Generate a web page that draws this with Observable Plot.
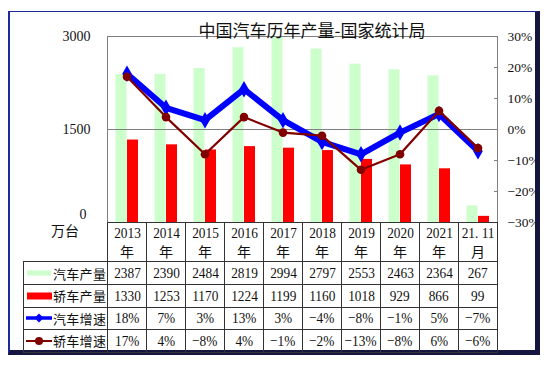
<!DOCTYPE html>
<html><head><meta charset="utf-8">
<script src="https://cdn.jsdelivr.net/npm/d3@7"></script>
<script src="https://cdn.jsdelivr.net/npm/@observablehq/plot@0.6"></script>
<style>
body{margin:0;background:#fff;}
#wrap{position:relative;width:547px;height:365px;overflow:hidden;background:#fff;font-family:"Liberation Serif",serif;color:#111;}
#chart{position:absolute;left:0;top:0;}
#frame{position:absolute;left:8px;top:11px;width:532px;height:344px;box-sizing:border-box;border-left:2px solid #1f2a9a;border-top:1.5px solid #1f2a9a;border-right:5px solid #15163f;border-bottom:5px solid #15163f;pointer-events:none;}
#title{position:absolute;top:20px;left:312px;transform:translateX(-50%);font-family:"Noto Sans CJK SC";font-size:17px;line-height:20px;white-space:nowrap;color:#111;}
#unit{position:absolute;left:51px;top:222px;font-family:"Noto Sans CJK SC";font-size:14px;line-height:17px;color:#111;}
table{position:absolute;left:23px;top:222px;border-collapse:collapse;table-layout:fixed;width:474px;}
td{border:1px solid #333;padding:0;text-align:center;vertical-align:middle;overflow:hidden;white-space:nowrap;}
td.corner{border-top:none;border-left:none;}
.num{display:inline-block;font-family:"Liberation Serif";font-size:15.5px;transform:scaleX(0.86);line-height:18px;}
.cjk{font-family:"Noto Sans CJK SC";font-size:14px;line-height:18px;display:block;}
.leg{display:flex;align-items:center;padding-left:2px;font-family:"Noto Sans CJK SC";font-size:13px;letter-spacing:0.3px;}
.leg svg{flex:none;}
</style></head>
<body><div id="wrap"><div id="chart"></div><div id="title"></div><div id="unit"></div><div id="frame"></div></div>
<script>
// ---- data ----
const categories = ["2013年","2014年","2015年","2016年","2017年","2018年","2019年","2020年","2021年","21. 11月"];
const seriesNames = ["汽车产量","轿车产量","汽车增速","轿车增速"];
const carOutput   = [2387,2390,2484,2819,2994,2797,2553,2463,2364,267];
const sedanOutput = [1330,1253,1170,1224,1199,1160,1018,929,866,99];
const carGrowth   = [18,7,3,13,3,-4,-8,-1,5,-7];
const sedanGrowth = [17,4,-8,4,-1,-2,-13,-8,6,-6];
const leftTicks  = [0,1500,3000];
const rightTicks = [-30,-20,-10,0,10,20,30];
const titleText = "中国汽车历年产量-国家统计局";
const unitText = "万台";

const colors = {car:"#ccffcc", sedan:"#ff0000", carG:"#0000ff", sedanG:"#800000"};

// map right-axis percentage onto left-axis domain [0,3000] <-> [-30,30]
const pctMin = rightTicks[0], pctMax = rightTicks[rightTicks.length-1];
const yMax = leftTicks[leftTicks.length-1];
const pctToY = p => (p - pctMin) / (pctMax - pctMin) * yMax;
const yToPct = v => Math.round(v / yMax * (pctMax - pctMin) + pctMin);
const fmtPct = p => (p < 0 ? "\u2212" : "") + Math.abs(p) + "%";

const rows = categories.map((c,i)=>({c, car:carOutput[i], sedan:sedanOutput[i], cg:pctToY(carGrowth[i]), sg:pctToY(sedanGrowth[i])}));

const chart = Plot.plot({
  width:547, height:365,
  marginLeft:107, marginRight:50, marginTop:36, marginBottom:143,
  x:{type:"band", domain:categories, padding:0, axis:null},
  y:{domain:[0,yMax], axis:null},
  style:{background:"transparent", fontFamily:"Liberation Serif", fontSize:"14px", color:"#111", overflow:"visible"},
  marks:[
    Plot.barY(rows,{x:"c", y:"car", fill:colors.car, insetLeft:8.5, insetRight:19.5}),
    Plot.barY(rows,{x:"c", y:"sedan", fill:colors.sedan, insetLeft:20, insetRight:8}),
    Plot.ruleY([leftTicks[1]],{stroke:"#808080"}),
    Plot.frame({stroke:"#808080"}),
    Plot.axisY(leftTicks.filter(d=>d>0),{anchor:"left", tickSize:0, tickPadding:17, fontSize:14, tickFormat:d=>String(d)}),
    Plot.axisY(leftTicks.filter(d=>d===0),{anchor:"left", tickSize:0, tickPadding:21, fontSize:14, dy:-8, tickFormat:d=>String(d)}),
    Plot.axisY(rightTicks.map(pctToY),{anchor:"right", tickSize:-4, tickPadding:14, fontSize:13.5, stroke:"#808080", tickFormat:d=>fmtPct(yToPct(d))}),
    Plot.line(rows,{x:"c", y:"cg", stroke:colors.carG, strokeWidth:6}),
    Plot.dot(rows,{x:"c", y:"cg", symbol:"diamond", r:5, fill:colors.carG}),
    Plot.line(rows,{x:"c", y:"sg", stroke:colors.sedanG, strokeWidth:2.2}),
    Plot.dot(rows,{x:"c", y:"sg", r:4.3, fill:colors.sedanG})
  ]
});
document.getElementById("chart").append(chart);
document.getElementById("title").textContent = titleText;
document.getElementById("unit").textContent = unitText;

// ---- data table ----
function legendSvg(k){
  const ns="http://www.w3.org/2000/svg";
  const s=document.createElementNS(ns,"svg"); s.setAttribute("width","27"); s.setAttribute("height","14");
  const add=(tag,attrs)=>{const e=document.createElementNS(ns,tag);for(const a in attrs)e.setAttribute(a,attrs[a]);s.append(e);};
  if(k===0) add("rect",{x:1,y:4.5,width:24,height:5,fill:colors.car});
  if(k===1) add("rect",{x:1,y:3.5,width:25,height:7,fill:colors.sedan});
  if(k===2){ add("line",{x1:0,y1:7,x2:26,y2:7,stroke:colors.carG,"stroke-width":3.5}); add("path",{d:"M13,2.5L17.5,7L13,11.5L8.5,7Z",fill:colors.carG}); }
  if(k===3){ add("line",{x1:0,y1:7,x2:26,y2:7,stroke:colors.sedanG,"stroke-width":2}); add("circle",{cx:13,cy:7,r:4,fill:colors.sedanG}); }
  return s;
}
const table=document.createElement("table");
const cg=document.createElement("colgroup");
[84,...categories.map(()=>39)].forEach(w=>{const c=document.createElement("col");c.style.width=w+"px";cg.append(c);});
table.append(cg);
const hr=table.insertRow(); hr.style.height="39px";
const corner=hr.insertCell(); corner.className="corner";
categories.forEach(c=>{const td=hr.insertCell(); const top=c.slice(0,-1), bot=c.slice(-1);
  td.innerHTML=`<span class="num">${top}</span><span class="cjk">${bot}</span>`;});
const rowVals=[carOutput.map(String), sedanOutput.map(String), carGrowth.map(fmtPct), sedanGrowth.map(fmtPct)];
const rowH=[23,22.5,22.5,22.5];
seriesNames.forEach((name,k)=>{
  const tr=table.insertRow(); tr.style.height=rowH[k]+"px";
  const lc=tr.insertCell(); const d=document.createElement("div"); d.className="leg"; d.append(legendSvg(k)); d.append(document.createTextNode(name)); lc.append(d);
  rowVals[k].forEach(v=>{const td=tr.insertCell(); td.innerHTML=`<span class="num">${v}</span>`;});
});
document.getElementById("wrap").append(table);
</script>
</body></html>
